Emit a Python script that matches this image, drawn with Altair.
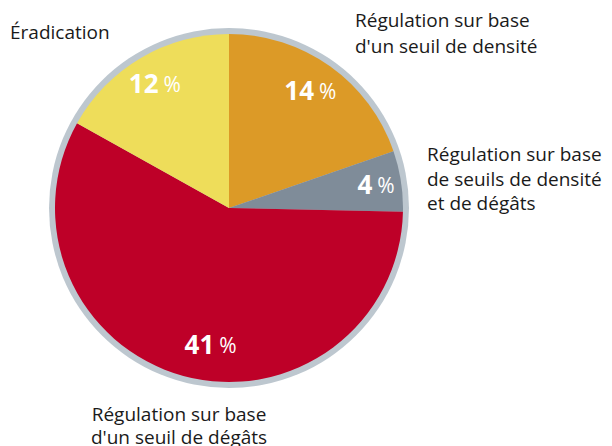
import altair as alt
import pandas as pd

# ---- data ----
categories = [
    "Régulation sur base d'un seuil de densité",
    "Régulation sur base de seuils de densité et de dégâts",
    "Régulation sur base d'un seuil de dégâts",
    "Éradication",
]
values = [14, 4, 41, 12]
slice_colors = ["#DC9A27", "#7F8C99", "#BE0028", "#EEDD5A"]
outer_labels = [
    "Régulation sur base\nd'un seuil de densité",
    "Régulation sur base\nde seuils de densité\net de dégâts",
    "Régulation sur base\nd'un seuil de dégâts",
    "Éradication",
]

df = pd.DataFrame({
    "cat": categories,
    "value": values,
    "order": list(range(len(values))),
    "num": [str(v) for v in values],
})

W, H = 442, 400
FONT = "Open Sans"
RING = "#BDC7CF"
TXT = "#1A1A1A"

base = alt.Chart(df)
theta = alt.Theta("value:Q", stack=True)
order = alt.Order("order:Q")

ring = base.transform_aggregate(total="sum(value)").mark_arc(
    radius=180, color=RING
).encode(theta=alt.Theta("total:Q"))

pie = base.mark_arc(radius=174).encode(
    theta=theta,
    order=order,
    color=alt.Color("cat:N", scale=alt.Scale(domain=categories, range=slice_colors), legend=None),
)

BIG = 2  # index of the largest slice, whose label sits off-centre

def pct_layers(cond, dx_shift, dy_shift, radius):
    n = base.transform_calculate(t=f"{cond} ? datum.num : ''").mark_text(
        radius=radius, align="right", baseline="middle", font=FONT, fontWeight="bold",
        fontSize=26, color="white", dx=2 + dx_shift, dy=dy_shift,
    ).encode(theta=theta, order=order, text="t:N")
    p = base.transform_calculate(t=f"{cond} ? '%' : ''").mark_text(
        radius=radius, align="left", baseline="middle", font=FONT, fontWeight="normal",
        fontSize=21, color="white", dx=7 + dx_shift, dy=dy_shift + 1,
    ).encode(theta=theta, order=order, text="t:N")
    return [n, p]

pct = pct_layers(f"datum.order != {BIG}", 0, 0, 143) + pct_layers(f"datum.order == {BIG}", 20, 3, 140)

outer_pos = [
    dict(x=347, y=19, align="left", lh=26),
    dict(x=419, y=153, align="left", lh=24.5),
    dict(x=171, y=413, align="center", lh=23),
    dict(x=2, y=31, align="left", lh=25),
]
outer = []
for lab, pos in zip(outer_labels, outer_pos):
    outer.append(
        alt.Chart(pd.DataFrame({"t": [lab]})).mark_text(
            align=pos["align"], baseline="alphabetic", font=FONT, fontSize=19,
            color=TXT, lineBreak="\n", lineHeight=pos["lh"],
        ).encode(x=alt.value(pos["x"]), y=alt.value(pos["y"]), text="t:N")
    )

chart = alt.layer(ring, pie, *pct, *outer).properties(
    width=W, height=H,
    autosize=alt.AutoSizeParams(type="none"),
    padding={"left": 0, "top": 0, "right": 154, "bottom": 38},
).configure_view(stroke=None)

chart.save("out.html", embed_options={"renderer": "svg", "actions": False})
